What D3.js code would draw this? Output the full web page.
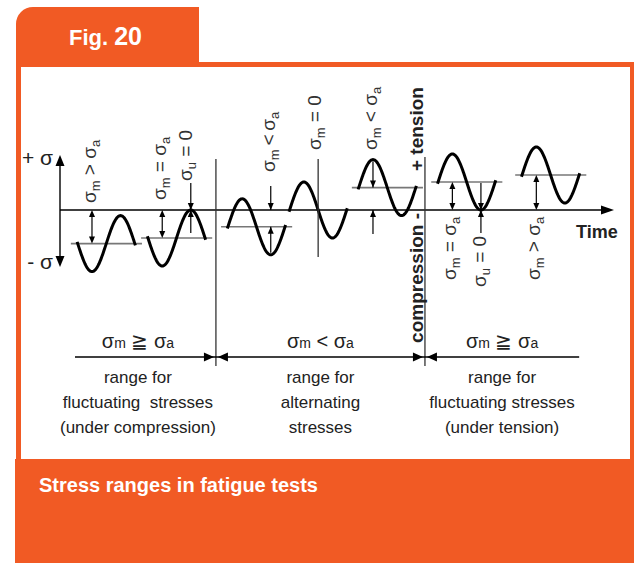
<!DOCTYPE html>
<html>
<head>
<meta charset="utf-8">
<script src="https://cdn.jsdelivr.net/npm/d3@7"></script>
<style>
  body { margin: 0; background: #fff; }
</style>
</head>
<body>
<script>
// stress waves, sigma values in units of the amplitude sigma_a
var waveMean  = [-1.2, -1.0, -0.6, 0, 0.8, 1.0, 1.25];
var waveAmp   = [1, 1, 1, 1, 1, 1, 1];
var waveFirst = [-1, -1, 1, 1, 1, 1, 1];                 // -1 trough first, 1 peak first
var waveTime  = [0.56, 1.79, 3.19, 4.27, 5.48, 6.87, 8.34]; // time of first extreme (periods)
var waveLabel = ["σ_m > σ_a", "σ_m = σ_a", "σ_m\u2009<\u2009σ_a", "σ_m = 0", "σ_m < σ_a", "σ_m = σ_a", "σ_m > σ_a"];
var zeroLabel = "σ_u = 0";

// stress ranges along the time axis
var rangeBounds = [0, 2.73, 6.39, 9.09];
var rangeCond   = ["σ_m ≧ σ_a", "σ_m < σ_a", "σ_m ≧ σ_a"];
var rangeText   = [
    ["range for", "fluctuating\u00a0 stresses", "(under compression)"],
    ["range for", "alternating", "stresses"],
    ["range for", "fluctuating stresses", "(under tension)"]
];

var orange = "#f15a24",
    ink = "#222";

var svg = d3.select("body").append("svg")
    .attr("width", 634)
    .attr("height", 563)
    .style("font-family", "'Liberation Sans', Arial, sans-serif");

// frame
svg.append("path")
    .attr("d", "M16,67 L16,24 A17,17 0 0 1 33,7 L199,7 L199,62 L634,62 L634,67 Z")
    .style("fill", orange);
svg.append("rect").attr("x", 16).attr("y", 62).attr("width", 5).attr("height", 400).style("fill", orange);
svg.append("rect").attr("x", 630).attr("y", 62).attr("width", 4).attr("height", 400).style("fill", orange);
svg.append("rect").attr("x", 15).attr("y", 459).attr("width", 619).attr("height", 104).style("fill", orange);

var fig = svg.append("text")
    .attr("x", 69).attr("y", 45)
    .style("fill", "#fff").style("font-weight", "bold");
fig.append("tspan").style("font-size", "22px").text("Fig. ");
fig.append("tspan").style("font-size", "25px").text("20");

svg.append("text")
    .attr("x", 39).attr("y", 492)
    .style("fill", "#fff").style("font-weight", "bold").style("font-size", "20px")
    .text("Stress ranges in fatigue tests");

// scales
var x = d3.scaleLinear().domain([0, 9.7]).range([60, 614]);
var y = d3.scaleLinear().domain([-2, 2]).range([266, 154]);
var y0 = y(0);

// text with _subscripts
function rich(sel, str, size, subSize, shift) {
    var cur = 0;
    sel.style("font-size", size + "px");
    str.split(/(_\w)/).forEach(function(p) {
        if (!p) return;
        if (p[0] == "_") {
            sel.append("tspan").attr("dy", shift - cur).style("font-size", subSize + "px").text(p.slice(1));
            cur = shift;
        } else {
            sel.append("tspan").attr("dy", -cur).text(p);
            cur = 0;
        }
    });
    return sel;
}

function head(g, tx, ty, dir, len, hw) {
    // tip at (tx,ty)
    var p;
    if (dir == "down") p = [[tx, ty], [tx - hw, ty - len], [tx + hw, ty - len]];
    if (dir == "up") p = [[tx, ty], [tx - hw, ty + len], [tx + hw, ty + len]];
    if (dir == "right") p = [[tx, ty], [tx - len, ty - hw], [tx - len, ty + hw]];
    if (dir == "left") p = [[tx, ty], [tx + len, ty - hw], [tx + len, ty + hw]];
    g.append("path").attr("d", "M" + p.join("L") + "Z").style("fill", "#000");
}

function vline(g, xx, y1, y2, w, col) {
    g.append("line")
        .attr("x1", xx).attr("x2", xx).attr("y1", y1).attr("y2", y2)
        .style("stroke", col || "#000").style("stroke-width", w || 1.3);
}

// arrow from y1 to y2, head at y2
function arrow(g, xx, y1, y2) {
    vline(g, xx, y1, y2, 1.2);
    head(g, xx, y2, y2 > y1 ? "down" : "up", 7, 3);
}

function rotLabel(g, xx, yy, str, anchor) {
    rich(g.append("text")
        .attr("transform", "translate(" + xx + "," + yy + ") rotate(-90)")
        .attr("text-anchor", anchor || "start")
        .style("fill", "#333"), str, 19, 13, 4);
}

var plot = svg.append("g");

// sigma axis
vline(plot, x(0), y(2) + 8, y(-2) - 8, 1.4);
head(plot, x(0), y(2) + 1, "up", 11, 4.5);
head(plot, x(0), y(-2) + 1, "down", 11, 4.5);
plot.append("text").attr("x", 53).attr("y", 165).attr("text-anchor", "end")
    .style("font-size", "21px").style("fill", ink).text("+ σ");
plot.append("text").attr("x", 53).attr("y", 269).attr("text-anchor", "end")
    .style("font-size", "21px").style("fill", ink).text("- σ");

// time axis
plot.append("line")
    .attr("x1", x(0)).attr("x2", 603).attr("y1", y0).attr("y2", y0)
    .style("stroke", "#000").style("stroke-width", 1.4);
head(plot, 614, y0, "right", 13, 4.5);
plot.append("text").attr("x", 576).attr("y", 238)
    .style("font-size", "18px").style("font-weight", "bold").style("fill", ink).text("Time");

// range separators
vline(plot, x(rangeBounds[1]), 159, 366, 1.3, "#333");
vline(plot, x(rangeBounds[2]), 157, 366, 1.3, "#333");

// compression / tension
var ctX = x(rangeBounds[2]) - 2;
plot.append("text")
    .attr("transform", "translate(" + ctX + ",171) rotate(-90)")
    .style("font-size", "19px").style("font-weight", "bold").style("fill", ink)
    .text("+ tension");
plot.append("text")
    .attr("transform", "translate(" + ctX + ",213) rotate(-90)")
    .attr("text-anchor", "end")
    .style("font-size", "19px").style("font-weight", "bold").style("fill", ink)
    .text("compression -");

// waves
var labelY = [203, 200, 172, 150, 150, 280, 280];
var line = d3.line().x(function(d) { return x(d[0]); }).y(function(d) { return y(d[1]); });

waveMean.forEach(function(m, i) {
    var a = waveAmp[i], te = waveTime[i], s = waveFirst[i];
    var g = plot.append("g").attr("class", "wave");
    var ym = y(m);

    if (m != 0) {
        g.append("line")
            .attr("x1", x(te - 0.37)).attr("x2", x(te + 0.875))
            .attr("y1", ym).attr("y2", ym)
            .style("stroke", "#777").style("stroke-width", 1.6);
    }

    var pts = d3.range(te - 0.26, te + 0.761, 0.01).map(function(t) {
        return [t, m + s * a * Math.cos(2 * Math.PI * (t - te))];
    });
    g.append("path")
        .attr("d", line(pts))
        .style("fill", "none").style("stroke", "#000").style("stroke-width", 3);

    var ax;
    if (m == 0) {
        ax = x(te + 0.25);
        vline(g, ax, 159, 257, 1.3, "#333");
        rotLabel(g, ax + 3, labelY[i], waveLabel[i]);
    } else if (Math.abs(m) >= a) {
        ax = x(te);
        vline(g, ax, y0 + (m > 0 ? -1 : 1) * 6, ym - (m > 0 ? -1 : 1) * 6, 1.2);
        head(g, ax, y0, m > 0 ? "down" : "up", 7, 3);
        head(g, ax, ym, m > 0 ? "up" : "down", 7, 3);
        rotLabel(g, ax + 4, labelY[i], waveLabel[i]);
    } else {
        // mean between axis and extreme: arrows from outside
        var sg = m > 0 ? 1 : -1;
        var tExt = s == sg ? te : te + 0.5;
        ax = x(tExt);
        arrow(g, ax, y(m + sg * a) + sg * 2, ym);
        arrow(g, ax, y0 + sg * 24, y0);
        rotLabel(g, ax + 4, labelY[i], waveLabel[i]);
    }

    if (Math.abs(m) == a) {
        var zx = x(te + 0.5);
        arrow(g, zx, y0 - 27, y0);
        arrow(g, zx, y0 + 23, y0);
        if (m < 0) rotLabel(g, zx + 1, 181, zeroLabel);
        else rotLabel(g, zx + 5, 287, zeroLabel);
    }
});

// ranges
var rangeY = 357;
plot.append("line")
    .attr("x1", x(rangeBounds[0]) + 15).attr("x2", x(rangeBounds[3]))
    .attr("y1", rangeY).attr("y2", rangeY)
    .style("stroke", "#000").style("stroke-width", 1.3);
[rangeBounds[1], rangeBounds[2]].forEach(function(b) {
    head(plot, x(b) - 2, rangeY, "right", 10, 4.5);
    head(plot, x(b) + 2, rangeY, "left", 10, 4.5);
});

rangeCond.forEach(function(c, i) {
    var cx = (x(rangeBounds[i]) + x(rangeBounds[i + 1])) / 2;
    rich(plot.append("text")
        .attr("x", cx).attr("y", 348)
        .attr("text-anchor", "middle")
        .style("fill", ink), c, 20, 14, 0);
    rangeText[i].forEach(function(t, j) {
        plot.append("text")
            .attr("x", cx).attr("y", 383 + j * 25)
            .attr("text-anchor", "middle")
            .style("font-size", "17px").style("fill", ink)
            .text(t);
    });
});
</script>
</body>
</html>
